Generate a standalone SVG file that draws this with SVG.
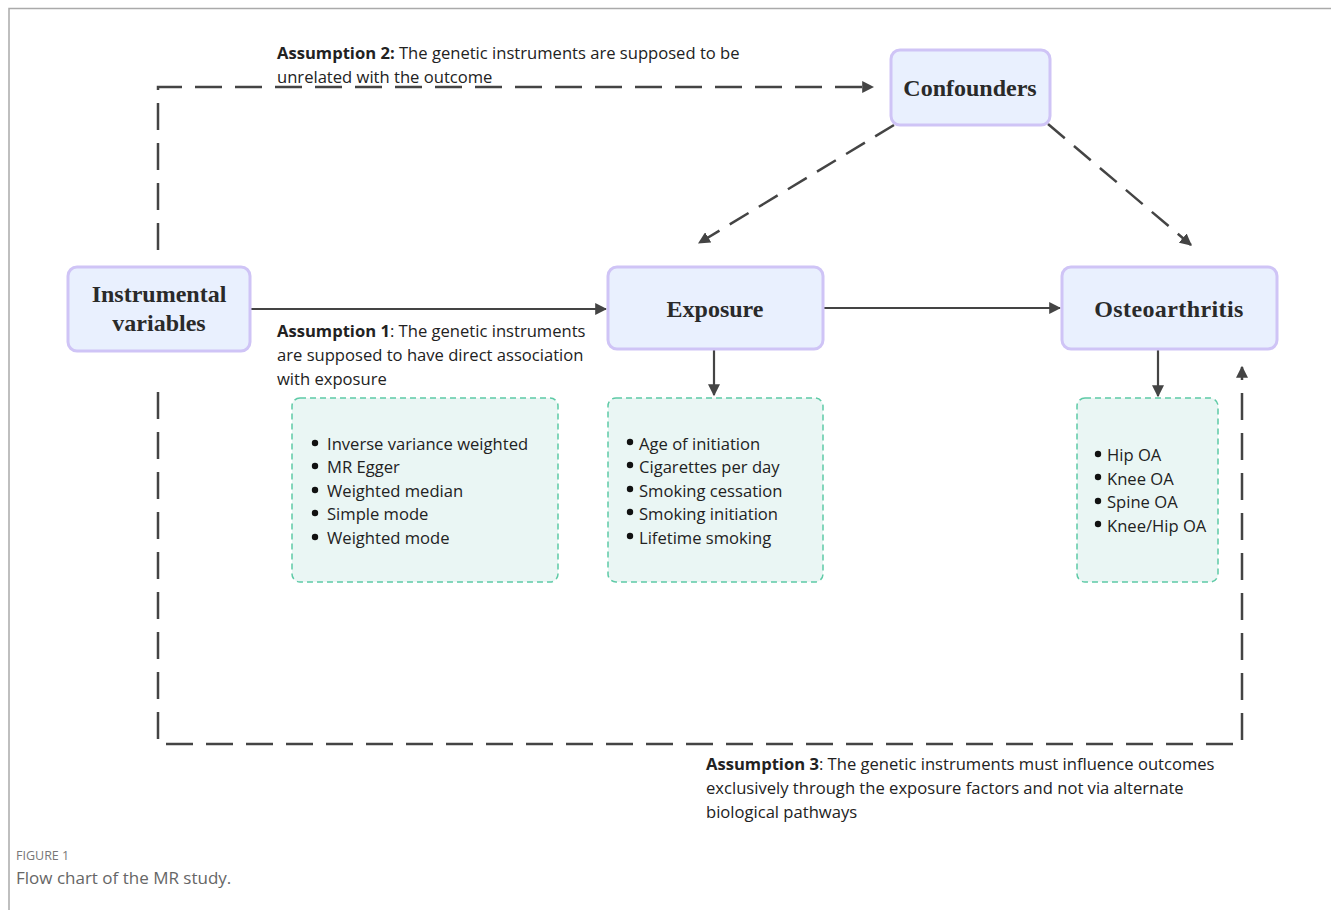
<svg xmlns="http://www.w3.org/2000/svg" width="1331" height="910" viewBox="0 0 1331 910">
<defs>
<style>
.node{fill:#e9f0fe;stroke:#cfc4f6;stroke-width:3}
.box{fill:#eaf6f4;stroke:#5ecaa6;stroke-width:1.5;stroke-dasharray:6 4}
.lbl{font-family:"Liberation Serif","Times New Roman",serif;font-weight:bold;font-size:24px;fill:#2a2a2a;text-anchor:middle}
.t{font-family:"Open Sans","Noto Sans",sans-serif;font-size:16.6px;fill:#222}
.b{font-weight:bold}
.dot{fill:#111}
.solid{stroke:#444;stroke-width:2.2;fill:none}
.dash{stroke:#444;stroke-width:2.5;fill:none;stroke-dasharray:27 13}
.cap1{font-family:"Open Sans","Noto Sans",sans-serif;font-size:12.5px;fill:#777}
.cap2{font-family:"Open Sans","Noto Sans",sans-serif;font-size:17px;fill:#666}
</style>
<marker id="ah" viewBox="0 0 10 10" refX="9" refY="5" markerWidth="12" markerHeight="12" markerUnits="userSpaceOnUse" orient="auto">
<path d="M0,0 L10,5 L0,10 z" fill="#444"/>
</marker>
</defs>
<rect width="1331" height="910" fill="#fff"/>
<path d="M9,910 V8.5 H1331" fill="none" stroke="#aaa" stroke-width="1.5"/>

<g id="connectors">
<path class="dash" d="M158,250 V87 H873" marker-end="url(#ah)"/>
<path class="dash" d="M158,392 V744 H1242 V367" marker-end="url(#ah)"/>
<path class="solid" d="M250,309 H606" marker-end="url(#ah)"/>
<path class="solid" d="M823,308 H1060" marker-end="url(#ah)"/>
<path class="solid" d="M714,349 V395" marker-end="url(#ah)"/>
<path class="solid" d="M1158,349 V396" marker-end="url(#ah)"/>
<path class="dash" style="stroke-dasharray:22 12" d="M894,125 L699,243" marker-end="url(#ah)"/>
<path class="dash" style="stroke-dasharray:22 12" d="M1048,124 L1191,245" marker-end="url(#ah)"/>
</g>

<g id="node-iv">
<rect class="node" x="68" y="267" width="182" height="84" rx="9"/>
<text class="lbl" x="159" y="302">Instrumental</text>
<text class="lbl" x="159" y="331">variables</text>
</g>
<g id="node-exposure">
<rect class="node" x="608" y="267" width="215" height="82" rx="9"/>
<text class="lbl" x="715" y="317">Exposure</text>
</g>
<g id="node-oa">
<rect class="node" x="1062" y="267" width="215" height="82" rx="9"/>
<text class="lbl" x="1169" y="317" letter-spacing="0.4">Osteoarthritis</text>
</g>
<g id="node-confounders">
<rect class="node" x="891" y="50" width="159" height="75" rx="9"/>
<text class="lbl" x="970" y="96">Confounders</text>
</g>

<g id="box-methods">
<rect class="box" x="292" y="398" width="266" height="184" rx="8"/>
<g class="dot">
<circle cx="315" cy="443" r="3.2"/><circle cx="315" cy="466" r="3.2"/><circle cx="315" cy="490" r="3.2"/><circle cx="315" cy="513" r="3.2"/><circle cx="315" cy="537" r="3.2"/>
</g>
<g class="t">
<text x="327" y="450">Inverse variance weighted</text>
<text x="327" y="473">MR Egger</text>
<text x="327" y="497">Weighted median</text>
<text x="327" y="520">Simple mode</text>
<text x="327" y="544">Weighted mode</text>
</g>
</g>
<g id="box-exposures">
<rect class="box" x="608" y="398" width="215" height="184" rx="8"/>
<g class="dot">
<circle cx="630" cy="442" r="3.2"/><circle cx="630" cy="465" r="3.2"/><circle cx="630" cy="489" r="3.2"/><circle cx="630" cy="512" r="3.2"/><circle cx="630" cy="536" r="3.2"/>
</g>
<g class="t">
<text x="639" y="450">Age of initiation</text>
<text x="639" y="473">Cigarettes per day</text>
<text x="639" y="497">Smoking cessation</text>
<text x="639" y="520">Smoking initiation</text>
<text x="639" y="544">Lifetime smoking</text>
</g>
</g>
<g id="box-outcomes">
<rect class="box" x="1077" y="398" width="141" height="184" rx="8"/>
<g class="dot">
<circle cx="1098" cy="454" r="3.2"/><circle cx="1098" cy="477" r="3.2"/><circle cx="1098" cy="501" r="3.2"/><circle cx="1098" cy="524" r="3.2"/>
</g>
<g class="t">
<text x="1107" y="461">Hip OA</text>
<text x="1107" y="485">Knee OA</text>
<text x="1107" y="508">Spine OA</text>
<text x="1107" y="532">Knee/Hip OA</text>
</g>
</g>

<g id="label-assumption2" class="t">
<text x="277" y="59"><tspan class="b">Assumption 2:</tspan> The genetic instruments are supposed to be</text>
<text x="277" y="83">unrelated with the outcome</text>
</g>
<g id="label-assumption1" class="t">
<text x="277" y="337"><tspan class="b">Assumption 1</tspan>: The genetic instruments</text>
<text x="277" y="361">are supposed to have direct association</text>
<text x="277" y="385">with exposure</text>
</g>
<g id="label-assumption3" class="t">
<text x="706" y="770"><tspan class="b">Assumption 3</tspan>: The genetic instruments must influence outcomes</text>
<text x="706" y="794">exclusively through the exposure factors and not via alternate</text>
<text x="706" y="818">biological pathways</text>
</g>

<text class="cap1" x="16" y="860">FIGURE 1</text>
<text class="cap2" x="16" y="884">Flow chart of the MR study.</text>
</svg>
